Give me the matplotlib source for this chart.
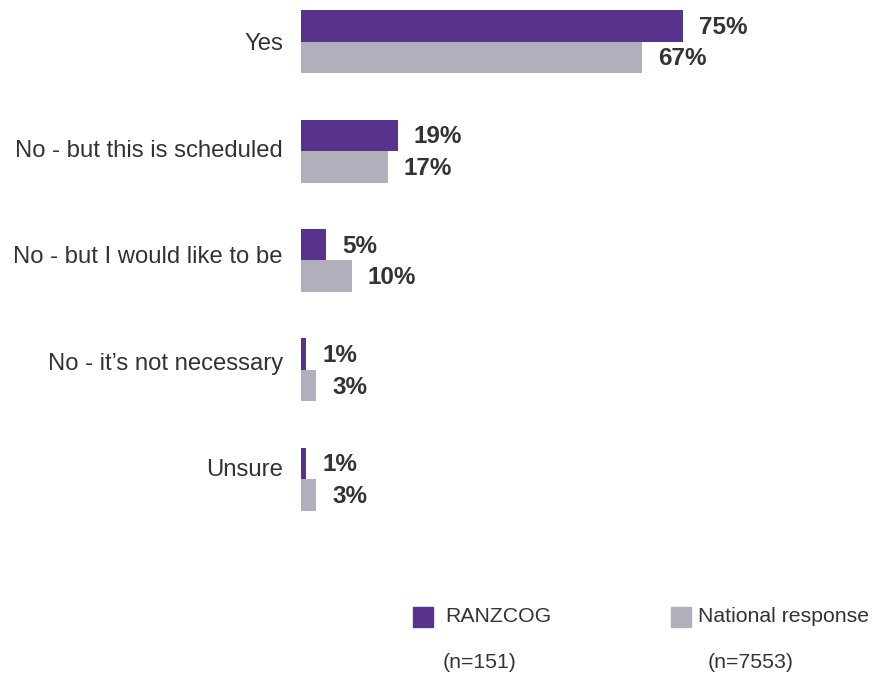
import numpy as np
import matplotlib.pyplot as plt
from matplotlib.patches import Rectangle

plt.rcParams['font.family'] = ['Liberation Sans', 'DejaVu Sans']

# Survey answers and shares (%)
categories = ['Yes', 'No - but this is scheduled', 'No - but I would like to be',
              'No - it\u2019s not necessary', 'Unsure']
ranzcog = [75, 19, 5, 1, 1]
national = [67, 17, 10, 3, 3]
series_names = ['RANZCOG', 'National response']
series_n = ['(n=151)', '(n=7553)']

purple = '#58338B'
grey = '#B0AFBB'
text_col = '#333333'

W, H = 873, 677
fig = plt.figure(figsize=(W / 100, H / 100), dpi=100)

# axes placed in pixel terms: left at x=301, top at y=0
top_c, step = 41.7, 109.4
ax_bottom = 540
ax = fig.add_axes([301 / W, 1 - ax_bottom / H, (W - 301) / W, ax_bottom / H])

y = np.arange(len(categories))
h = 31.5 / step
ax.barh(y - h / 2, ranzcog, height=h, color=purple)
ax.barh(y + h / 2, national, height=h, color=grey)

for yi, v in zip(y, ranzcog):
    ax.annotate(f'{v}%', (v, yi - h / 2), xytext=(11.5, -1), textcoords='offset points',
                va='center', ha='left', fontsize=17.5, fontweight='bold', color=text_col)
for yi, v in zip(y, national):
    ax.annotate(f'{v}%', (v, yi + h / 2), xytext=(11.5, -1), textcoords='offset points',
                va='center', ha='left', fontsize=17.5, fontweight='bold', color=text_col)

ax.set_xlim(0, (W - 301) / 5.093)
ax.set_ylim((ax_bottom - top_c) / step, -top_c / step)
ax.set_xticks([])
ax.set_yticks([])
for s in ax.spines.values():
    s.set_visible(False)

# category labels sit on a slightly tighter pitch than the bars
label_step = 106.5
for i, cat in enumerate(categories):
    ly = (42 + label_step * i - top_c) / step
    ax.annotate(cat, (0, ly), xycoords=('axes fraction', 'data'),
                xytext=(-13, -1.8), textcoords='offset points',
                ha='right', va='center', fontsize=17.2, color=text_col)

# legend drawn by hand at the bottom
sq = 20
for x0, tx, name, n, col, nx in [(413, 445, series_names[0], series_n[0], purple, 443),
                                 (671, 698, series_names[1], series_n[1], grey, 708)]:
    fig.patches.append(Rectangle((x0 / W, 1 - 627 / H), sq / W, sq / H,
                                 transform=fig.transFigure, color=col))
    fig.text(tx / W, 1 - 617 / H, name,
             fontsize=15.3, color=text_col, va='center', ha='left')
    fig.text(nx / W, 1 - 662 / H, n, fontsize=15.3, color=text_col, va='center', ha='left')

plt.savefig('out.png', dpi=100)
